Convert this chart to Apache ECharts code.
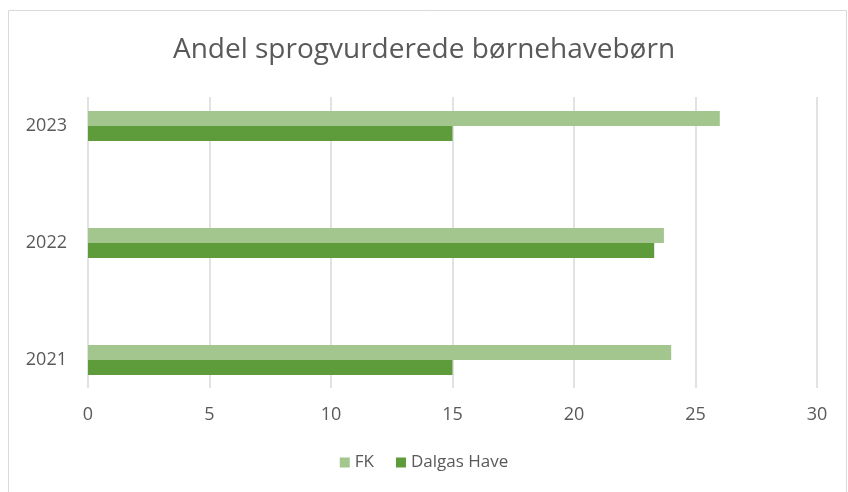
<!DOCTYPE html>
<html>
<head>
<meta charset="utf-8">
<script src="https://cdn.jsdelivr.net/npm/echarts@6/dist/echarts.min.js"></script>
<style>
  html, body { margin: 0; padding: 0; background: #fff; }
  #chart { width: 848px; height: 492px; }
</style>
</head>
<body>
<div id="chart"></div>
<script>
// data
const years = ["2021", "2022", "2023"];
const fk = [24, 23.7, 26];
const dalgas = [15, 23.3, 15];
const xTicks = [0, 5, 10, 15, 20, 25, 30];

const txt = "#595959";
const font = "'Open Sans', sans-serif";

const chart = echarts.init(document.getElementById("chart"), null, { renderer: "canvas" });

const option = {
  backgroundColor: "#fff",
  animation: false,
  title: {
    text: "Andel sprogvurderede børnehavebørn",
    left: "center",
    top: 31,
    textStyle: { color: txt, fontFamily: font, fontWeight: "normal", fontSize: 28 },
  },
  graphic: [
    {
      type: "rect",
      shape: { x: 8.5, y: 10.5, width: 838, height: 500 },
      style: { fill: "none", stroke: "#d9d9d9", lineWidth: 1 },
      silent: true,
    },
  ],
  legend: {
    data: ["FK", "Dalgas Have"],
    bottom: 16,
    left: "center",
    itemWidth: 10,
    itemHeight: 10,
    itemGap: 22,
    icon: "rect",
    textStyle: { color: txt, fontFamily: font, fontSize: 17 },
  },
  grid: [
    // grid for the bars
    { left: 88, right: 31, top: 67.5, height: 351 },
    // grid for the gridlines and value labels
    { left: 88, right: 31, top: 97, bottom: 104 },
  ],
  xAxis: [
    { gridIndex: 0, type: "value", min: 0, max: 30, show: false },
    {
      gridIndex: 1,
      type: "value",
      min: xTicks[0],
      max: xTicks[xTicks.length - 1],
      interval: 5,
      axisLine: { show: false },
      axisTick: { show: false },
      axisLabel: { color: txt, fontFamily: font, fontSize: 18, margin: 18 },
      splitLine: { lineStyle: { color: "#d9d9d9", width: 1.5 } },
    },
  ],
  yAxis: [
    {
      gridIndex: 0,
      type: "category",
      data: years,
      axisLine: { show: false },
      axisTick: { show: false },
      axisLabel: { color: txt, fontFamily: font, fontSize: 18, margin: 21 },
    },
    { gridIndex: 1, type: "value", show: false, splitLine: { show: false } },
  ],
  series: [
    {
      name: "FK",
      type: "bar",
      xAxisIndex: 0,
      yAxisIndex: 0,
      data: fk,
      barWidth: 15,
      barGap: "0%",
      itemStyle: { color: "#a2c68e" },
    },
    {
      name: "Dalgas Have",
      type: "bar",
      xAxisIndex: 0,
      yAxisIndex: 0,
      data: dalgas,
      barWidth: 15,
      barGap: "0%",
      itemStyle: { color: "#5e9b3b" },
    },
  ],
};

chart.setOption(option);
</script>
</body>
</html>
